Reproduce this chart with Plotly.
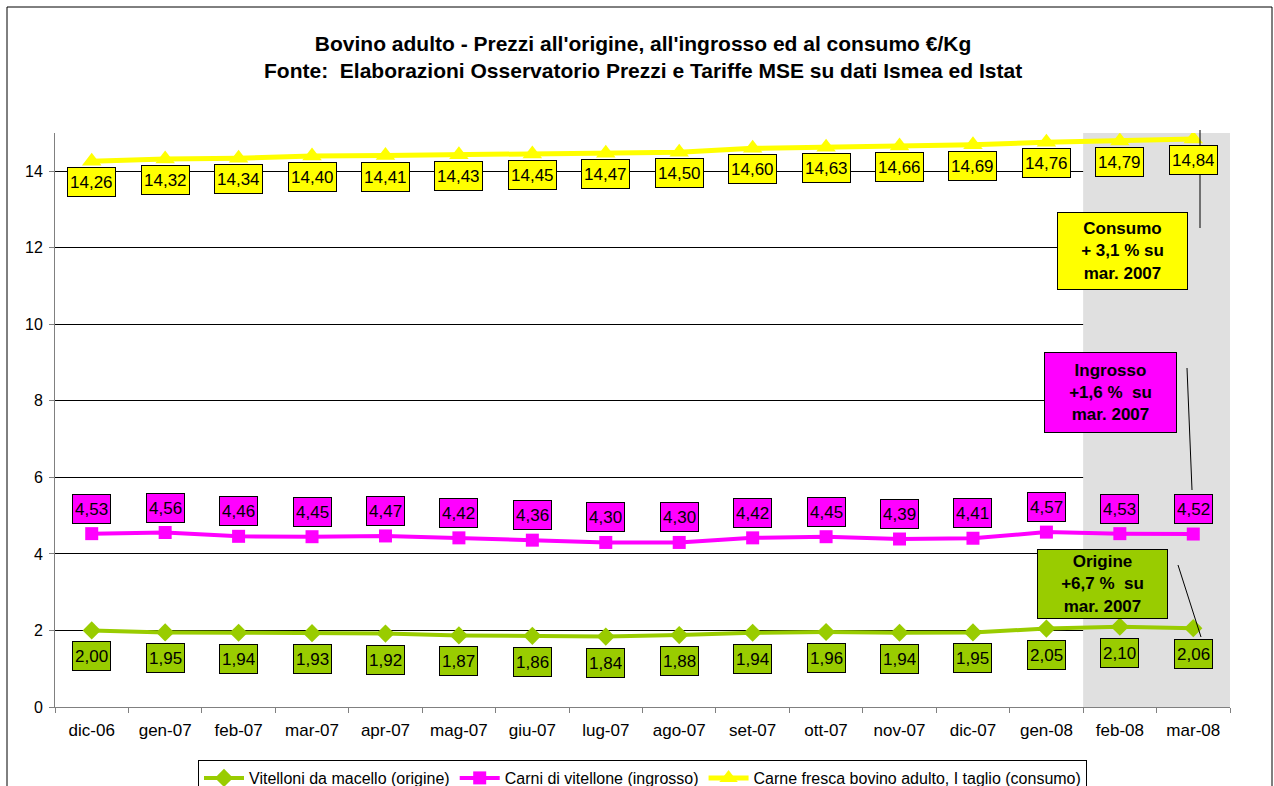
import plotly.graph_objects as go

categories = ["dic-06", "gen-07", "feb-07", "mar-07", "apr-07", "mag-07", "giu-07", "lug-07",
              "ago-07", "set-07", "ott-07", "nov-07", "dic-07", "gen-08", "feb-08", "mar-08"]
origine = [2.00, 1.95, 1.94, 1.93, 1.92, 1.87, 1.86, 1.84, 1.88, 1.94, 1.96, 1.94, 1.95, 2.05, 2.10, 2.06]
ingrosso = [4.53, 4.56, 4.46, 4.45, 4.47, 4.42, 4.36, 4.30, 4.30, 4.42, 4.45, 4.39, 4.41, 4.57, 4.53, 4.52]
consumo = [14.26, 14.32, 14.34, 14.40, 14.41, 14.43, 14.45, 14.47, 14.50, 14.60, 14.63, 14.66, 14.69, 14.76, 14.79, 14.84]

names = ["Vitelloni da macello (origine)", "Carni di vitellone (ingrosso)",
         "Carne fresca bovino adulto, I taglio (consumo)"]
title_lines = ["Bovino adulto - Prezzi all'origine, all'ingrosso ed al consumo €/Kg",
               "Fonte:  Elaborazioni Osservatorio Prezzi e Tariffe MSE su dati Ismea ed Istat"]
callouts = ["Consumo<br>+ 3,1 % su<br>mar. 2007",
            "Ingrosso<br>+1,6 %  su<br>mar. 2007",
            "Origine<br>+6,7 %  su<br>mar. 2007"]

GREEN = "#99CC00"
MAGENTA = "#FF00FF"
YELLOW = "#FFFF00"
FONT = "Liberation Sans, Arial, sans-serif"

W, H = 1274, 786
L, R, T, B = 55, 1230, 133, 707


def px(x):
    return (x - L) / (R - L)


def py(y):
    return (B - y) / (B - T)


fig = go.Figure()
series = [(origine, GREEN, "diamond", 14, 4), (ingrosso, MAGENTA, "square", 13, 4),
          (consumo, YELLOW, "triangle-up", 17, 5)]
for (vals, col, sym, sz, lw), nm in zip(series, names):
    fig.add_trace(go.Scatter(x=categories, y=vals, name=nm, mode="lines+markers",
                             line=dict(color=col, width=lw),
                             marker=dict(symbol=sym, size=sz, color=col)))

annotations = []
offsets = [-26, 25, -21]
for (vals, col, _, _, _), off in zip(series, offsets):
    for c, v in zip(categories, vals):
        annotations.append(dict(x=c, y=v, xref="x", yref="y", yshift=off, showarrow=False,
                                xanchor="center", yanchor="middle",
                                text=f"{v:.2f}".replace(".", ","), height=24,
                                font=dict(family=FONT, size=17, color="black"),
                                bgcolor=col, bordercolor="black", borderwidth=1, borderpad=2))

annotations.append(dict(x=0.5, xref="paper", y=py(57.5), yref="paper", showarrow=False,
                        xanchor="center", yanchor="middle",
                        text="<b>" + title_lines[0] + "</b><br><b>" + title_lines[1] + "</b>",
                        font=dict(family=FONT, size=21, color="black")))

boxes = [((1057, 212, 1188, 290), YELLOW), ((1044, 352, 1177, 433), MAGENTA), ((1037, 549, 1168, 619), GREEN)]
for ((x0, y0, x1, y1), col), txt in zip(boxes, callouts):
    annotations.append(dict(x=px((x0 + x1) / 2), y=py((y0 + y1) / 2), xref="paper", yref="paper",
                            xanchor="center", yanchor="middle",
                            showarrow=False, text="<b>" + txt + "</b>", align="center",
                            width=x1 - x0 - 4, height=y1 - y0 - 4,
                            font=dict(family=FONT, size=17, color="black"),
                            bgcolor=col, bordercolor="black", borderwidth=1, borderpad=1))

shapes = [
    dict(type="rect", xref="x", yref="y", x0=13.5, x1=15.5, y0=0, y1=15,
         fillcolor="#E0E0E0", line=dict(width=0), layer="between"),
    dict(type="line", xref="paper", yref="paper", x0=px(1200), y0=py(130), x1=px(1200), y1=py(228),
         line=dict(color="black", width=1)),
    dict(type="line", xref="paper", yref="paper", x0=px(1187), y0=py(368), x1=px(1192), y1=py(490),
         line=dict(color="black", width=1)),
    dict(type="line", xref="paper", yref="paper", x0=px(1178), y0=py(565), x1=px(1201), y1=py(637),
         line=dict(color="black", width=1)),
    dict(type="rect", xref="paper", yref="paper", x0=px(7), y0=py(795), x1=px(1272), y1=py(7),
         line=dict(color="black", width=1), layer="below"),
]

fig.update_layout(
    width=W, height=H,
    margin=dict(l=L, r=W - R, t=T, b=H - B, autoexpand=False),
    paper_bgcolor="white", plot_bgcolor="white",
    font=dict(family=FONT, size=16, color="black"),
    showlegend=True,
    legend=dict(orientation="h", x=0.5, xanchor="center", y=py(760), yanchor="top",
                bordercolor="black", borderwidth=1, font=dict(family=FONT, size=16),
                itemwidth=40, bgcolor="white"),
    annotations=annotations,
    shapes=shapes,
    xaxis=dict(type="category", range=[-0.5, 15.5], showgrid=False, showline=True,
               linecolor="#808080", linewidth=1, ticks="outside", tickson="boundaries",
               ticklen=5, tickcolor="#808080", tickfont=dict(size=17), ticklabelstandoff=8),
    yaxis=dict(range=[0, 15], dtick=2, showgrid=True, gridcolor="black", gridwidth=1,
               showline=True, linecolor="#808080", ticks="outside", ticklen=5,
               tickcolor="#808080", zeroline=False, tickfont=dict(size=16), ticklabelstandoff=3),
)

fig.write_html("out.html", config={"displayModeBar": False},
               post_script="document.body.style.margin='0';")
